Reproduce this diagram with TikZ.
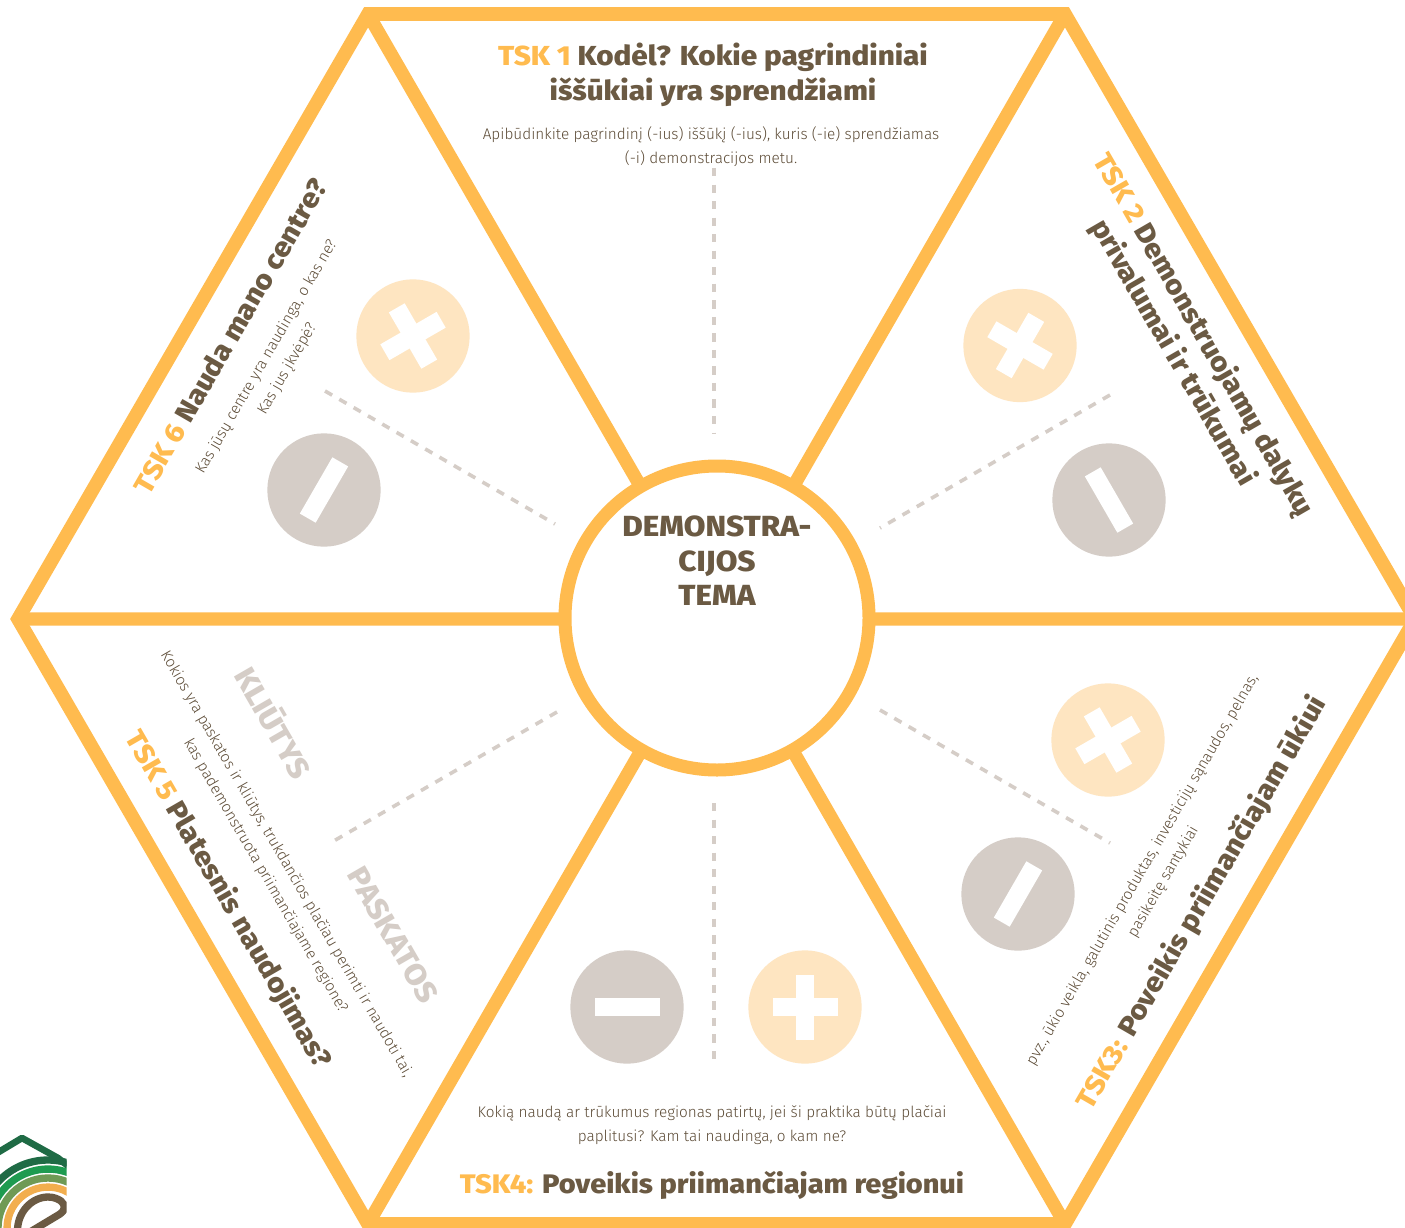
\documentclass[tikz,border=0pt]{standalone}
\usepackage{fontspec}
\setmainfont{Fira Sans}
\newfontfamily\hd{Fira Sans}[UprightFont=* ExtraBold,FakeStretch=1.08]
\newfontfamily\lt{Fira Sans}[UprightFont=* Light]
\definecolor{org}{HTML}{FFBB4F}
\definecolor{brn}{HTML}{6B5A43}
\definecolor{brd}{HTML}{5C4B36}
\definecolor{gry}{HTML}{D5CDC7}
\definecolor{pch}{HTML}{FEE5C1}
\definecolor{logoa}{HTML}{1F6B45}
\definecolor{logob}{HTML}{1E9B50}
\definecolor{logoc}{HTML}{6F9A55}
\definecolor{logod}{HTML}{F2AE4E}
\tikzset{
 hexline/.style={draw=org,line width=10.2pt,line join=miter,miter limit=10},
 spoke/.style={draw=org,line width=10pt},
 dashln/.style={draw=gry,line width=2.7pt,dash pattern=on 6.2pt off 6.2pt},
 head/.style={font=\hd\fontsize{20.6}{26.2}\selectfont,text=brn,align=center,inner sep=0pt},
 body/.style={font=\lt\fontsize{11.5}{18}\selectfont,text=brd,align=center,inner sep=0pt},
 tag/.style={font=\hd\fontsize{22.3}{26}\selectfont,text=gry,inner sep=0pt},
 plusdisc/.style={circle,fill=pch,minimum size=85pt,inner sep=0pt},
 minusdisc/.style={circle,fill=gry,minimum size=85pt,inner sep=0pt},
 bar/.style={fill=white,minimum width=48.75pt,minimum height=13.7pt,inner sep=0pt},
 logoarc/.style={line width=5.5pt},
}
\begin{document}
\begin{tikzpicture}[x=0.75pt,y=-0.75pt]
\useasboundingbox (0,0) rectangle (1405,1227);
\clip (0,0) rectangle (1405,1227);
\fill[white] (0,0) rectangle (1405,1227);
\coordinate (ctr) at (717,619);
\coordinate (A) at (368,14);
\coordinate (B) at (1065,14);
\coordinate (C) at (1415,619);
\coordinate (D) at (1065,1224);
\coordinate (E) at (368,1224);
\coordinate (F) at (18,619);
\draw[hexline] (A)--(B)--(C)--(D)--(E)--(F)--cycle;
\draw[spoke] (A)--(ctr) (B)--(ctr) (C)--(ctr) (D)--(ctr) (E)--(ctr) (F)--(ctr);
\node[circle,draw=org,fill=white,line width=9.75pt,minimum size=228pt,inner sep=0pt] (hub) at (717,618) {};
\node[font=\hd\fontsize{21.8}{25.8}\selectfont,text=brn,align=center,inner sep=0pt,anchor=north] (hubtext) at (717,516) {DEMONSTRA-\\CIJOS\\TEMA};
% dashed dividers
\coordinate (d1a) at (714,168); \coordinate (d1b) at (714,434);
\coordinate (d2a) at (1110,395); \coordinate (d2b) at (880,528);
\coordinate (d3a) at (880,710); \coordinate (d3b) at (1110,843);
\coordinate (d4a) at (714,803); \coordinate (d4b) at (714,1065);
\coordinate (d5a) at (557,712); \coordinate (d5b) at (332,842);
\coordinate (d6a) at (325,391); \coordinate (d6b) at (555,524);
\foreach \p in {1,...,6} {\draw[dashln] (d\p a)--(d\p b);}
% discs
\node[plusdisc] (p2) at (1020,345.5) {};
\node[bar,rotate=-30] (p2h) at (p2) {}; \node[bar,rotate=60] (p2v) at (p2) {};
\node[minusdisc] (m2) at (1109,500) {};
\node[bar,rotate=-60] (m2h) at (m2) {};
\node[plusdisc] (p3) at (1108,740) {};
\node[bar,rotate=30] (p3h) at (p3) {}; \node[bar,rotate=120] (p3v) at (p3) {};
\node[minusdisc] (m3) at (1018,894) {};
\node[bar,rotate=60] (m3h) at (m3) {};
\node[plusdisc] (p4) at (805,1007) {};
\node[bar] (p4h) at (p4) {}; \node[bar,rotate=90] (p4v) at (p4) {};
\node[minusdisc] (m4) at (627,1007) {};
\node[bar] (m4h) at (m4) {};
\node[plusdisc] (p6) at (413,336) {};
\node[bar,rotate=30] (p6h) at (p6) {}; \node[bar,rotate=120] (p6v) at (p6) {};
\node[minusdisc] (m6) at (324,490) {};
\node[bar,rotate=60] (m6h) at (m6) {};
% titles
\node[head] (t1) at (713,75) {\textcolor{org}{TSK 1} Kodėl? Kokie pagrindiniai\\iššūkiai yra sprendžiami};
\node[body] (s1) at (711,147) {Apibūdinkite pagrindinį (-ius) iššūkį (-ius), kuris (-ie) sprendžiamas\\(-i) demonstracijos metu.};
\node[head,rotate=-60] (t2) at (1188,344) {\textcolor{org}{TSK 2} Demonstruojamų dalykų\\privalumai ir trūkumai};
\node[head,rotate=60] (t3) at (1202,903) {\textcolor{org}{TSK3:} Poveikis priimančiajam ūkiui};
\node[body,rotate=60] (s3) at (1153,876) {pvz., ūkio veikla, galutinis produktas, investicijų sąnaudos, pelnas,\\pasikeitę santykiai};
\node[head,font=\hd\fontsize{20.1}{26}\selectfont] (t4) at (712,1185) {\textcolor{org}{TSK4:} Poveikis priimančiajam regionui};
\node[body] (s4) at (712,1125) {Kokią naudą ar trūkumus regionas patirtų, jei ši praktika būtų plačiai\\paplitusi? Kam tai naudinga, o kam ne?};
\node[head,rotate=-60] (t5) at (228,900) {\textcolor{org}{TSK 5} Platesnis naudojimas?};
\node[body,rotate=-60] (s5) at (276,870) {Kokios yra paskatos ir kliūtys, trukdančios plačiau perimti ir naudoti tai,\\kas pademonstruota priimančiajame regione?};
\node[tag,rotate=-60] (k5) at (275,722) {KLIŪTYS};
\node[tag,rotate=-60] (q5) at (393,935) {PASKATOS};
\node[head,rotate=60] (t6) at (230,336) {\textcolor{org}{TSK 6} Nauda mano centre?};
\node[body,rotate=60] (s6) at (277,363) {Kas jūsų centre yra naudinga, o kas ne?\\Kas jus įkvėpė?};
% logo
\begin{scope}
\clip (-1,1130) rectangle (66.5,1228);
\draw[draw=logoa,line width=5pt,line join=round] (-8,1156) -- (22,1138) -- (58,1158) -- (68,1166);
\draw[logoarc,draw=logoa] (48,1228) circle[radius=51pt];
\draw[logoarc,draw=logob] (48,1228) circle[radius=44.2pt];
\draw[logoarc,draw=logoc] (48,1228) circle[radius=37.5pt];
\draw[logoarc,draw=logod] (48,1228) circle[radius=30.7pt];
\draw[draw=brn,line width=5.5pt,line join=round] (17.5,1232) .. controls (17,1212) and (32,1197) .. (48,1197) .. controls (54,1197) and (58,1199) .. (61,1201) .. controls (66,1205) and (65,1211) .. (60,1214) -- (30,1232);
\end{scope}
\end{tikzpicture}
\end{document}
